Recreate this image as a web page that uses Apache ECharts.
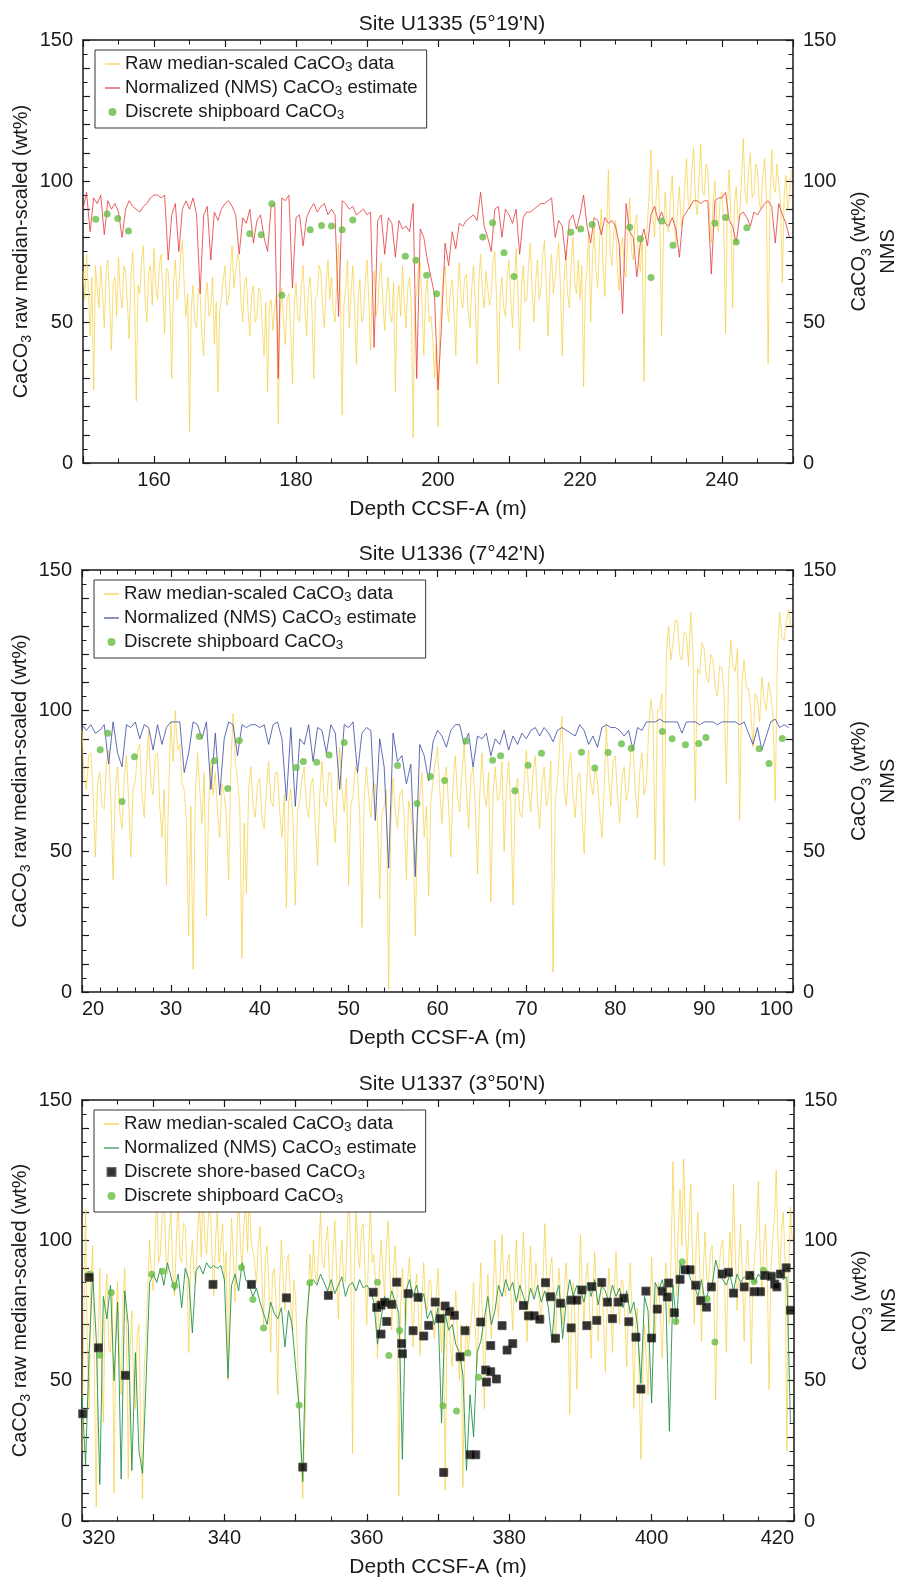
<!DOCTYPE html>
<html>
<head>
<meta charset="utf-8">
<script src="https://cdn.jsdelivr.net/npm/echarts@6.0.0/dist/echarts.min.js"></script>
<style>
  html, body { margin: 0; padding: 0; background: #fff; }
  #chart { width: 898px; height: 1581px; }
</style>
</head>
<body>
<div id="chart"></div>
<script>
(function () {
    'use strict';

    // ---- data ----
    // raw logs: first depth, sampling step (m), values
    var rawStart1 = 150, rawStep = 0.25;
    var raw1 = [
        68, 58, 74, 62, 45, 66, 26, 70, 62, 55,
        70, 60, 48, 68, 72, 58, 40, 64, 66, 52,
        73, 60, 55, 70, 68, 57, 44, 66, 75, 61,
        22, 63, 60, 72, 77, 58, 50, 68, 70, 56,
        76, 62, 58, 70, 74, 60, 46, 69, 68, 55,
        30, 64, 72, 58, 62, 74, 79, 63, 52, 60,
        11, 55, 63, 50, 48, 62, 60, 45, 38, 58,
        64, 52, 55, 66, 42, 57, 25, 54, 58, 65,
        70, 56, 58, 68, 77, 62, 62, 74, 72, 58,
        50, 64, 66, 54, 45, 60, 63, 50, 52, 62,
        60, 48, 38, 57, 25, 55, 58, 47, 55, 60,
        14, 52, 62, 50, 42, 58, 60, 48, 28, 56,
        64, 52, 50, 63, 70, 55, 45, 62, 66, 54,
        30, 58, 60, 70, 68, 55, 48, 64, 72, 58,
        66, 54, 50, 64, 78, 60, 17, 56, 62, 72,
        48, 60, 70, 55, 35, 58, 65, 50, 52, 64,
        72, 58, 40, 62, 68, 52, 55, 66, 71, 56,
        47, 60, 66, 53, 50, 64, 25, 58, 63, 52,
        70, 57, 48, 62, 66, 55, 9, 58, 60, 70,
        71, 56, 38, 60, 65, 50, 52, 45, 30, 42,
        13, 48, 58, 66, 70, 56, 50, 62, 65, 54,
        38, 60, 71, 58, 55, 66, 67, 54, 48, 62,
        70, 57, 35, 64, 74, 60, 55, 68, 68, 56,
        60, 72, 75, 58, 28, 60, 66, 55, 52, 66,
        72, 58, 48, 64, 76, 60, 40, 62, 70, 57,
        58, 70, 78, 62, 50, 64, 72, 58, 62, 74,
        79, 62, 45, 66, 74, 60, 60, 72, 78, 62,
        38, 64, 75, 60, 55, 70, 80, 64, 60, 72,
        58, 70, 27, 62, 70, 82, 50, 72, 84, 68,
        62, 78, 90, 70, 59, 80, 104, 75, 70, 82,
        86, 70, 61, 76, 80, 68, 66, 82, 94, 75,
        72, 85, 88, 72, 68, 80, 29, 75, 85, 96,
        111, 88, 80, 95, 104, 85, 45, 82, 96, 84,
        82, 94, 102, 86, 78, 90, 98, 84, 86, 98,
        108, 92, 90, 104, 112, 94, 88, 100, 113, 96,
        95, 106, 104, 88, 78, 92, 100, 86, 82, 94,
        96, 84, 46, 90, 104, 88, 55, 92, 98, 86,
        88, 100, 115, 96, 92, 104, 110, 94, 95, 106,
        104, 92, 90, 102, 108, 94, 35, 92, 111, 98,
        96, 106, 106, 92, 64, 94, 102, 90, 94, 104
    ];
    // normalized logs: first depth, sampling step (m), values
    var nmsStart1 = 150, nmsStep = 0.5;
    var nms1 = [
        90, 96, 82, 94, 92, 95, 81, 93, 90, 92,
        89, 80, 90, 93, 91, 90, 89, 91, 92, 94,
        95, 95, 94, 95, 72, 88, 92, 75, 90, 93,
        90, 94, 88, 60, 88, 91, 72, 89, 86, 90,
        92, 93, 91, 88, 74, 87, 85, 90, 78, 86,
        88, 80, 75, 91, 92, 30, 94, 93, 95, 62,
        87, 88, 77, 87, 90, 92, 89, 91, 92, 88,
        90, 88, 52, 93, 92, 90, 91, 88, 89, 90,
        88, 89, 41, 86, 88, 74, 87, 85, 73, 86,
        83, 84, 82, 92, 30, 83, 80, 72, 66, 60,
        26, 49, 78, 70, 82, 76, 85, 84, 86, 87,
        88, 86, 96, 84, 80, 75, 90, 91, 80, 90,
        88, 85, 90, 74, 87, 89, 89, 90, 91, 92,
        92, 93, 94, 80, 86, 84, 72, 86, 88, 83,
        88, 95, 84, 78, 87, 86, 81, 87, 85, 86,
        84, 78, 53, 92, 82, 80, 66, 78, 83, 77,
        88, 91, 86, 89, 85, 84, 87, 83, 73, 87,
        89, 91, 93, 93, 92, 93, 93, 67, 93, 94,
        94, 96, 86, 84, 78, 88, 89, 87, 84, 89,
        88, 90, 92, 93, 91, 78, 92, 88, 85, 80
    ];
    var ship1 = [
        [151.8, 86.4], [153.4, 88.3], [154.9, 86.7], [156.4, 82.3], [173.5, 81.3],
        [175.1, 80.9], [176.6, 91.9], [178.0, 59.5], [182.0, 82.7], [183.6, 84.2],
        [185.0, 84.0], [186.5, 82.7], [188.0, 86.2], [195.4, 73.3], [196.9, 71.9],
        [198.4, 66.6], [199.8, 60.0], [206.3, 80.1], [207.7, 85.2], [209.3, 74.6],
        [210.7, 66.1], [218.7, 81.8], [220.1, 83.0], [221.7, 84.6], [227.0, 83.6],
        [228.5, 79.5], [230.0, 65.8], [231.5, 85.8], [233.1, 77.2], [239.0, 85.0],
        [240.5, 87.1], [242.0, 78.4], [243.5, 83.4]
    ];

    var rawStart2 = 20;
    var raw2 = [
        93, 76, 72, 84, 85, 70, 48, 74, 78, 66,
        65, 82, 86, 68, 40, 72, 80, 64, 58, 76,
        84, 68, 48, 72, 75, 86, 88, 70, 62, 80,
        93, 74, 70, 84, 85, 66, 55, 72, 38, 70,
        96, 82, 100, 86, 88, 74, 72, 60, 20, 66,
        8, 70, 85, 72, 60, 78, 27, 66, 82, 70,
        78, 64, 55, 74, 70, 62, 40, 80, 99, 82,
        75, 66, 12, 60, 35, 72, 80, 66, 62, 74,
        76, 62, 58, 72, 82, 68, 66, 78, 78, 64,
        55, 70, 30, 68, 72, 60, 31, 64, 68, 76,
        80, 66, 62, 74, 76, 60, 45, 70, 82, 68,
        66, 78, 78, 64, 53, 74, 87, 72, 64, 76,
        38, 66, 70, 80, 78, 62, 23, 68, 80, 70,
        62, 74, 74, 60, 33, 64, 66, 72, 1, 60,
        76, 64, 58, 70, 72, 62, 40, 68, 64, 55,
        20, 62, 70, 78, 55, 66, 34, 68, 75, 82,
        87, 72, 60, 76, 80, 66, 48, 74, 84, 70,
        64, 78, 88, 72, 58, 76, 80, 66, 42, 70,
        85, 70, 66, 78, 32, 70, 80, 68, 70, 82,
        50, 72, 82, 66, 31, 70, 76, 64, 62, 74,
        86, 72, 64, 78, 84, 68, 58, 74, 80, 66,
        70, 82, 7, 68, 75, 88, 98, 72, 66, 80,
        85, 70, 62, 76, 78, 64, 49, 72, 86, 74,
        70, 80, 75, 64, 55, 72, 95, 76, 66, 82,
        84, 70, 60, 76, 80, 68, 72, 86, 88, 72,
        62, 78, 85, 70, 74, 92, 104, 98, 47, 100,
        100, 106, 45, 120, 130, 118, 124, 132, 132, 120,
        118, 128, 127, 116, 135, 120, 68, 115, 113, 124,
        122, 112, 110, 120, 118, 108, 105, 116, 115, 106,
        74, 112, 125, 116, 114, 122, 61, 110, 118, 108,
        108, 100, 87, 106, 104, 96, 112, 104, 100, 110,
        106, 98, 68, 120, 135, 126, 125, 132, 136, 130
    ];
    var nmsStart2 = 20;
    var nms2 = [
        95, 93, 95, 92, 93, 95, 81, 96, 85, 80,
        95, 94, 96, 90, 95, 94, 86, 95, 88, 94,
        96, 96, 96, 78, 85, 96, 95, 90, 96, 72,
        92, 70, 90, 96, 95, 84, 95, 94, 95, 95,
        94, 95, 88, 95, 96, 90, 68, 94, 66, 90,
        88, 95, 82, 94, 93, 85, 95, 92, 72, 95,
        94, 96, 78, 92, 94, 93, 61, 90, 80, 44,
        92, 82, 84, 74, 81, 41, 88, 84, 75, 89,
        93, 91, 87, 93, 95, 95, 88, 92, 80, 91,
        90, 92, 84, 90, 88, 93, 86, 91, 88, 92,
        90, 93, 94, 91, 94, 92, 89, 93, 94, 93,
        92, 91, 95, 93, 88, 91, 87, 94, 95, 94,
        94, 93, 91, 93, 86, 94, 93, 96, 96, 96,
        97, 96, 96, 96, 96, 92, 96, 96, 96, 95,
        96, 96, 96, 95, 96, 96, 96, 96, 95, 96,
        92, 88, 94, 86, 91, 96, 97, 94, 95, 94
    ];
    var ship2 = [
        [22.05, 86.1], [22.9, 92.0], [24.5, 67.7], [25.9, 83.6], [33.2, 90.8],
        [34.9, 82.2], [36.4, 72.3], [37.7, 89.4], [44.1, 79.8], [44.9, 81.9],
        [46.4, 81.7], [47.8, 84.2], [49.5, 88.7], [55.5, 80.5], [57.7, 67.0],
        [59.2, 76.6], [60.8, 75.2], [63.2, 89.2], [66.2, 82.4], [67.1, 84.0],
        [68.7, 71.5], [70.2, 80.6], [71.7, 84.9], [76.2, 85.2], [77.7, 79.6],
        [79.2, 85.1], [80.7, 88.2], [81.8, 86.6], [85.3, 92.6], [86.4, 90.0],
        [87.9, 87.9], [89.4, 88.3], [90.2, 90.5], [96.2, 86.5], [97.3, 81.2],
        [98.8, 90.1]
    ];

    var rawStart3 = 320;
    var raw3 = [
        25, 70, 111, 60, 40, 85, 98, 52, 5, 62,
        90, 55, 35, 78, 88, 62, 60, 82, 10, 70,
        85, 60, 45, 78, 90, 70, 15, 62, 75, 48,
        40, 66, 70, 30, 8, 55, 65, 84, 100, 88,
        82, 98, 115, 92, 95, 108, 120, 96, 88, 104,
        110, 90, 80, 100, 114, 94, 92, 106, 105, 88,
        60, 92, 100, 88, 85, 104, 112, 94, 120, 100,
        95, 108, 115, 96, 80, 100, 110, 92, 98, 106,
        85, 96, 50, 88, 108, 94, 78, 100, 118, 98,
        90, 106, 112, 96, 118, 100, 100, 92, 85, 98,
        105, 88, 70, 94, 98, 84, 60, 88, 90, 78,
        45, 84, 100, 86, 75, 92, 95, 80, 68, 86,
        80, 60, 40, 24, 8, 30, 50, 76, 95, 84,
        100, 88, 85, 96, 110, 92, 90, 100, 105, 86,
        80, 94, 107, 90, 72, 92, 100, 86, 85, 102,
        118, 94, 24, 90, 112, 96, 90, 104, 106, 88,
        70, 96, 112, 92, 95, 84, 58, 88, 100, 90,
        80, 98, 107, 88, 68, 90, 98, 82, 9, 76,
        90, 78, 70, 86, 94, 80, 62, 82, 88, 74,
        59, 80, 92, 78, 75, 86, 85, 72, 65, 80,
        90, 74, 60, 78, 11, 66, 75, 62, 55, 72,
        82, 64, 50, 70, 12, 58, 70, 60, 60, 74,
        85, 68, 55, 76, 92, 72, 40, 70, 88, 74,
        65, 82, 100, 80, 72, 88, 102, 84, 80, 92,
        95, 80, 68, 86, 100, 84, 75, 90, 103, 86,
        64, 84, 98, 82, 80, 92, 92, 78, 70, 86,
        106, 88, 78, 90, 94, 80, 63, 82, 90, 78,
        70, 84, 92, 76, 38, 74, 85, 70, 47, 76,
        102, 84, 70, 86, 92, 78, 58, 80, 96, 82,
        64, 80, 85, 72, 53, 76, 90, 78, 60, 82,
        96, 80, 70, 86, 85, 72, 55, 78, 92, 76,
        40, 70, 76, 52, 22, 50, 70, 58, 45, 72,
        94, 78, 65, 82, 85, 72, 58, 80, 92, 84,
        70, 96, 128, 100, 80, 104, 118, 98, 129, 104,
        90, 106, 120, 94, 70, 98, 110, 90, 64, 88,
        103, 86, 85, 96, 98, 80, 43, 84, 90, 98,
        100, 84, 60, 88, 103, 90, 120, 96, 75, 92,
        106, 88, 64, 90, 100, 84, 56, 86, 95, 104,
        121, 96, 80, 98, 106, 88, 47, 90, 100, 108,
        125, 100, 88, 104, 110, 92, 25, 86, 112, 100
    ];
    var nmsStart3 = 320;
    var nms3 = [
        45, 20, 60, 88, 65, 13, 80, 72, 84, 50,
        78, 15, 82, 70, 18, 60, 25, 17, 50, 85,
        88, 85, 90, 84, 92, 87, 82, 88, 76, 90,
        86, 67, 89, 91, 88, 92, 90, 91, 90, 91,
        86, 51, 84, 88, 82, 92, 86, 84, 80, 83,
        78, 74, 70, 78, 74, 72, 76, 62, 75, 70,
        55, 40, 14, 70, 85, 86, 84, 88, 85, 82,
        86, 81, 84, 87, 80, 84, 85, 82, 86, 83,
        84, 82, 78, 63, 72, 80, 76, 82, 78, 74,
        22, 82, 86, 80, 84, 78, 81, 72, 75, 70,
        76, 35, 74, 68, 70, 63, 60, 52, 18, 45,
        30, 60, 64, 72, 80, 70, 75, 84, 80, 86,
        82, 85, 78, 84, 80, 76, 83, 79, 84, 78,
        82, 76, 64, 80, 84, 65, 78, 86, 80, 84,
        82, 78, 85, 80, 86, 77, 84, 82, 78, 84,
        80, 83, 76, 82, 74, 78, 70, 49, 80, 75,
        42, 85, 82, 86, 79, 32, 84, 70, 92, 88,
        90, 86, 84, 80, 86, 78, 82, 84, 93, 88,
        86, 84, 88, 82, 88, 85, 87, 86, 89, 85,
        88, 86, 89, 87, 86, 88, 89, 86, 87, 35
    ];
    var shore3 = [
        [320.1, 38.2], [321.0, 86.8], [322.3, 61.7], [326.1, 51.9], [338.4, 84.3],
        [343.8, 84.3], [348.7, 79.5], [351.0, 19.2], [354.6, 80.4], [360.9, 81.5],
        [361.4, 76.1], [362.0, 66.6], [362.0, 76.9], [362.5, 77.9], [362.8, 71.1],
        [363.5, 77.2], [364.2, 85.1], [364.9, 63.2], [365.0, 59.6], [365.8, 81.0],
        [366.5, 67.8], [367.2, 79.7], [368.0, 65.9], [368.7, 69.7], [369.6, 78.0],
        [370.3, 72.1], [370.8, 17.3], [371.0, 76.6], [371.6, 74.7], [372.3, 73.3],
        [373.1, 58.5], [373.8, 67.8], [374.5, 23.6], [375.3, 23.6], [376.0, 70.9],
        [376.7, 53.8], [376.8, 49.5], [377.4, 62.5], [377.4, 53.2], [378.2, 50.6],
        [379.0, 69.6], [379.7, 60.9], [380.5, 63.2], [382.0, 76.8], [382.7, 73.1],
        [383.5, 73.1], [384.3, 71.9], [385.1, 84.9], [385.8, 79.9], [386.5, 65.1],
        [387.2, 77.6], [388.7, 68.8], [388.7, 78.7], [389.5, 78.7], [390.2, 82.3],
        [390.9, 69.6], [391.6, 83.5], [392.3, 71.5], [393.0, 85.0], [393.8, 78.0],
        [394.5, 72.1], [395.3, 78.0], [396.1, 79.4], [396.8, 71.0], [397.8, 65.5],
        [398.5, 47.0], [399.2, 81.9], [400.0, 65.2], [400.8, 75.5], [401.5, 81.9],
        [402.2, 79.8], [402.4, 84.8], [403.2, 74.2], [404.0, 86.1], [404.7, 89.5],
        [405.4, 89.5], [406.2, 84.0], [406.9, 78.5], [407.7, 76.2], [408.4, 83.4],
        [409.9, 88.0], [410.8, 88.6], [411.5, 81.2], [413.0, 83.4], [413.8, 87.5],
        [414.4, 81.7], [415.3, 81.7], [415.9, 87.5], [416.8, 87.2], [417.3, 84.4],
        [417.6, 83.4], [418.1, 88.0], [418.9, 90.2], [419.5, 75.1]
    ];
    var ship3 = [
        [321.1, 88.0], [322.5, 59.1], [324.1, 81.4], [329.8, 87.9], [331.3, 89.0],
        [333.0, 83.9], [342.4, 90.3], [344.0, 78.9], [345.5, 68.8], [350.5, 41.2],
        [352.0, 84.9], [361.5, 85.1], [363.1, 59.0], [364.6, 67.9], [370.7, 41.1],
        [372.6, 39.2], [374.2, 59.9], [375.7, 51.2], [403.4, 71.1], [404.3, 92.4],
        [407.8, 79.2], [408.9, 63.8], [414.4, 85.3], [415.7, 89.3]
    ];

    var siteTitles = ["Site U1335 (5°19'N)", "Site U1336 (7°42'N)", "Site U1337 (3°50'N)"];
    var depthRanges = [[150, 250], [20, 100], [320, 420]];

    // ---- layout / style ----
    var font = "'Liberation Sans', Arial, Helvetica, sans-serif";
    var ink = '#1a1a1a';
    var grids = [
        {left: 83, top: 40, width: 710, height: 423, labelEvery: 20, minorSplit: 2},
        {left: 82, top: 570, width: 711, height: 422, labelEvery: 10, minorSplit: 5},
        {left: 82, top: 1100, width: 712, height: 421, labelEvery: 20, minorSplit: 2}
    ];
    var colRaw = '#F6CF3C', colShip = '#69BD45';
    var legendText = {
        raw1: 'Raw median-scaled CaCO{s|3} data',
        nms1: 'Normalized (NMS) CaCO{s|3} estimate',
        ship1: 'Discrete shipboard CaCO{s|3}',
        raw2: 'Raw median-scaled CaCO{s|3} data',
        nms2: 'Normalized (NMS) CaCO{s|3} estimate',
        ship2: 'Discrete shipboard CaCO{s|3}',
        raw3: 'Raw median-scaled CaCO{s|3} data',
        nms3: 'Normalized (NMS) CaCO{s|3} estimate',
        shore3: 'Discrete shore-based CaCO{s|3}',
        ship3: 'Discrete shipboard CaCO{s|3}'
    };

    function alongDepth(start, step, vals) {
        return vals.map(function (v, i) { return [start + i * step, v]; });
    }

    function tickBits(minorSplit) {
        return {
            axisLine: {show: true, onZero: false, lineStyle: {color: ink, width: 1.5}},
            axisTick: {show: true, inside: true, length: 7, lineStyle: {color: ink, width: 1.2}},
            minorTick: {show: true, splitNumber: minorSplit, length: 4.5, lineStyle: {color: ink, width: 1}},
            splitLine: {show: false},
            minorSplitLine: {show: false}
        };
    }

    function merge(a, b) {
        var o = {}, k;
        for (k in a) { o[k] = a[k]; }
        for (k in b) { o[k] = b[k]; }
        return o;
    }

    var labelStyle = {fontSize: 20, color: ink, fontFamily: font};
    var nameStyle = {
        fontSize: 21, color: ink, fontFamily: font, lineHeight: 26,
        rich: {s: {fontSize: 14, lineHeight: 14, verticalAlign: 'bottom', color: ink, fontFamily: font}}
    };

    var xAxes = [], yAxes = [], titles = [], legends = [];
    grids.forEach(function (g, i) {
        var r = depthRanges[i];
        var every = g.labelEvery;
        var base = merge(tickBits(g.minorSplit), {gridIndex: i, type: 'value', min: r[0], max: r[1], interval: 10});
        xAxes.push(merge(base, {
            position: 'bottom',
            axisLabel: merge(labelStyle, {
                margin: 7, alignMinLabel: 'left', alignMaxLabel: 'right',
                formatter: function (v) { return v % every === 0 ? String(v) : ''; }
            }),
            name: 'Depth CCSF-A (m)', nameLocation: 'middle', nameGap: 33, nameTextStyle: nameStyle
        }));
        xAxes.push(merge(base, {position: 'top', axisLabel: {show: false}}));

        var ybase = merge(tickBits(2), {gridIndex: i, type: 'value', min: 0, max: 150, interval: 10});
        var yfmt = function (v) { return v % 50 === 0 ? String(v) : ''; };
        yAxes.push(merge(ybase, {
            position: 'left',
            axisLabel: merge(labelStyle, {margin: 10, formatter: yfmt}),
            name: 'CaCO{s|3} raw median-scaled (wt%)', nameLocation: 'middle', nameRotate: 90,
            nameGap: 49, nameMoveOverlap: false,
            nameTextStyle: merge(nameStyle, {fontSize: 20})
        }));
        yAxes.push(merge(ybase, {
            position: 'right',
            axisLabel: merge(labelStyle, {margin: 10, formatter: yfmt}),
            name: 'CaCO{s|3} (wt%)\nNMS', nameLocation: 'middle', nameRotate: 90,
            nameGap: 52, nameMoveOverlap: false,
            nameTextStyle: merge(nameStyle, {fontSize: 20, lineHeight: 29})
        }));

        titles.push({
            text: siteTitles[i], left: 447, top: g.top - 31, textAlign: 'center',
            textStyle: {fontSize: 21, fontWeight: 'normal', color: ink, fontFamily: font}
        });
    });

    var lineIcon = 'path://M0,0L20,0L20,1.6L0,1.6Z';
    var squareIcon = 'path://M0,0L10,0L10,10L0,10Z';
    function legendFor(i, names) {
        var g = grids[i];
        return {
            orient: 'vertical', left: g.left + 12, top: g.top + 10,
            padding: [4, 9, 6, 10], itemGap: 4, itemWidth: 15, itemHeight: 8,
            borderColor: '#333', borderWidth: 1, backgroundColor: '#fff',
            selectedMode: false,
            data: names,
            formatter: function (n) { return legendText[n]; },
            textStyle: {
                fontSize: 18.6, lineHeight: 20, color: ink, fontFamily: font,
                rich: {s: {fontSize: 13.5, lineHeight: 13, verticalAlign: 'bottom', color: ink, fontFamily: font}}
            }
        };
    }
    legends.push(legendFor(0, [{name: 'raw1', icon: lineIcon}, {name: 'nms1', icon: lineIcon}, {name: 'ship1', icon: 'circle'}]));
    legends.push(legendFor(1, [{name: 'raw2', icon: lineIcon}, {name: 'nms2', icon: lineIcon}, {name: 'ship2', icon: 'circle'}]));
    legends.push(legendFor(2, [{name: 'raw3', icon: lineIcon}, {name: 'nms3', icon: lineIcon},
        {name: 'shore3', icon: squareIcon}, {name: 'ship3', icon: 'circle'}]));

    function lineSeries(name, i, data, color, width, z) {
        return {
            name: name, type: 'line', xAxisIndex: i * 2, yAxisIndex: i * 2, data: data,
            symbol: 'none', showSymbol: false, silent: true, z: z,
            lineStyle: {color: color, width: width}, itemStyle: {color: color}
        };
    }
    function dotSeries(name, i, data, z) {
        return {
            name: name, type: 'scatter', xAxisIndex: i * 2, yAxisIndex: i * 2, data: data,
            symbol: 'circle', symbolSize: 7, z: z, itemStyle: {color: colShip}
        };
    }

    var series = [
        lineSeries('raw1', 0, alongDepth(rawStart1, rawStep, raw1), colRaw, 0.7, 2),
        lineSeries('nms1', 0, alongDepth(nmsStart1, nmsStep, nms1), '#E5393B', 0.8, 3),
        dotSeries('ship1', 0, ship1, 4),
        lineSeries('raw2', 1, alongDepth(rawStart2, rawStep, raw2), colRaw, 0.7, 2),
        lineSeries('nms2', 1, alongDepth(nmsStart2, nmsStep, nms2), '#3A48A2', 0.8, 3),
        dotSeries('ship2', 1, ship2, 4),
        lineSeries('raw3', 2, alongDepth(rawStart3, rawStep, raw3), colRaw, 0.7, 2),
        lineSeries('nms3', 2, alongDepth(nmsStart3, nmsStep, nms3), '#22924A', 0.9, 3),
        dotSeries('ship3', 2, ship3, 4),
        {
            name: 'shore3', type: 'scatter', xAxisIndex: 4, yAxisIndex: 4, data: shore3,
            symbol: 'rect', symbolSize: 8, z: 5,
            itemStyle: {color: '#000', borderColor: '#444', borderWidth: 1}
        }
    ];

    var chart = echarts.init(document.getElementById('chart'), null, {renderer: 'canvas'});
    chart.setOption({
        animation: false,
        backgroundColor: '#fff',
        title: titles,
        legend: legends,
        grid: grids.map(function (g) {
            return {left: g.left, top: g.top, width: g.width, height: g.height, containLabel: false, outerBoundsMode: 'none'};
        }),
        xAxis: xAxes,
        yAxis: yAxes,
        series: series
    });
})();
</script>
</body>
</html>
